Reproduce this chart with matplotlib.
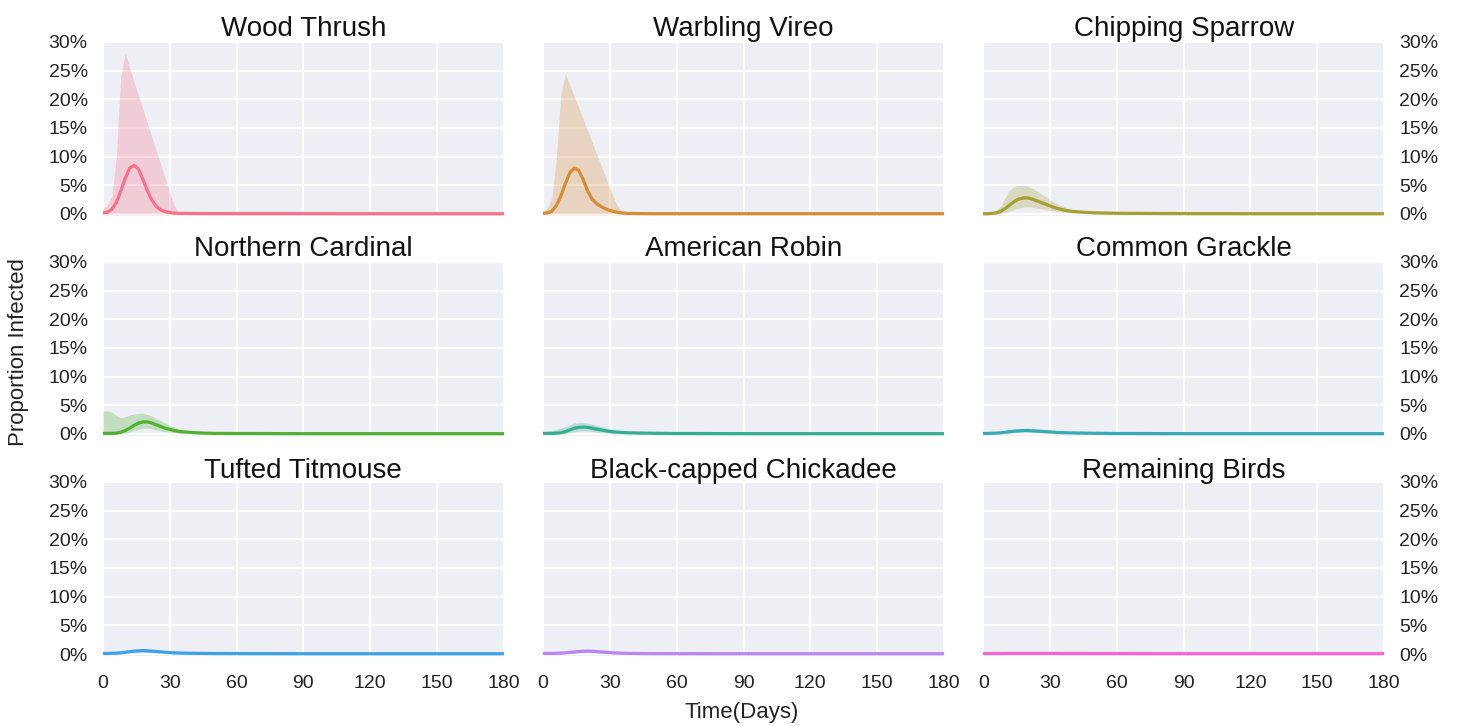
import matplotlib
matplotlib.use("Agg")
import matplotlib.pyplot as plt
import matplotlib.ticker as mtick
import seaborn as sns

#####################################################################
# data (percent infected):
days = [0, 2, 4, 6, 8, 10, 12, 14, 16, 18, 20, 22, 24, 26, 28, 30, 32, 34, 36, 38, 40,
        45, 50, 60, 80, 100, 120, 140, 160, 180]

species = ['Wood Thrush', 'Warbling Vireo', 'Chipping Sparrow',
           'Northern Cardinal', 'American Robin', 'Common Grackle',
           'Tufted Titmouse', 'Black-capped Chickadee', 'Remaining Birds']

wt_mean = [0.2, 0.3, 0.8, 2.0, 4.0, 6.2, 8.0, 8.5, 7.8, 6.0, 4.0, 2.4, 1.3, 0.7, 0.4, 0.25, 0.15, 0.1, 0.1, 0.08, 0.08,
           0.07, 0.07, 0.06, 0.06, 0.05, 0.05, 0.05, 0.05, 0.05]
wt_lo = [0.0] * 30
wt_hi = [1.0, 1.5, 3.0, 10.0, 24.0, 28.0, 25.5, 23.0, 20.6, 18.2, 15.8, 13.4, 11.0, 8.6, 6.2, 3.8, 1.4, 0.4, 0.3, 0.2, 0.2,
         0.15, 0.12, 0.1, 0.1, 0.08, 0.08, 0.08, 0.08, 0.08]

wv_mean = [0.1, 0.2, 0.5, 1.5, 3.2, 5.3, 7.2, 8.0, 7.6, 6.0, 4.0, 2.6, 1.8, 1.3, 0.9, 0.6, 0.4, 0.25, 0.15, 0.1, 0.08,
           0.06, 0.05, 0.05, 0.05, 0.05, 0.05, 0.05, 0.05, 0.05]
wv_lo = [0.0] * 30
wv_hi = [0.5, 1.0, 3.0, 10.0, 21.0, 24.5, 22.5, 20.5, 18.5, 16.5, 14.5, 12.5, 10.5, 8.5, 6.5, 4.5, 2.5, 1.0, 0.3, 0.2, 0.15,
         0.1, 0.1, 0.08, 0.08, 0.08, 0.08, 0.08, 0.08, 0.08]

cs_mean = [0.05, 0.05, 0.1, 0.2, 0.5, 1.0, 1.6, 2.2, 2.6, 2.8, 2.8, 2.6, 2.3, 2.0, 1.7, 1.4, 1.1, 0.9, 0.7, 0.55, 0.45,
           0.3, 0.2, 0.12, 0.08, 0.06, 0.05, 0.05, 0.05, 0.05]
cs_lo = [0.0, 0.0, 0.0, 0.0, 0.1, 0.3, 0.5, 0.8, 1.0, 1.2, 1.2, 1.2, 1.0, 0.9, 0.7, 0.6, 0.5, 0.4, 0.3, 0.2, 0.15,
         0.1, 0.05, 0.0, 0.0, 0.0, 0.0, 0.0, 0.0, 0.0]
cs_hi = [0.1, 0.15, 0.3, 0.7, 1.5, 3.0, 4.2, 4.8, 5.0, 5.0, 4.8, 4.5, 4.0, 3.5, 3.0, 2.5, 2.0, 1.6, 1.3, 1.0, 0.8,
         0.5, 0.35, 0.2, 0.12, 0.1, 0.08, 0.08, 0.08, 0.08]

nc_mean = [0.1, 0.1, 0.1, 0.15, 0.3, 0.6, 1.0, 1.5, 1.9, 2.1, 2.1, 1.9, 1.6, 1.3, 1.0, 0.8, 0.6, 0.45, 0.35, 0.3, 0.25,
           0.15, 0.1, 0.08, 0.06, 0.05, 0.05, 0.05, 0.05, 0.05]
nc_lo = [0.0, 0.0, 0.0, 0.0, 0.0, 0.1, 0.3, 0.6, 0.8, 1.0, 1.0, 0.9, 0.7, 0.5, 0.4, 0.3, 0.2, 0.1, 0.1, 0.05, 0.05,
         0.0, 0.0, 0.0, 0.0, 0.0, 0.0, 0.0, 0.0, 0.0]
nc_hi = [4.0, 4.0, 3.8, 3.2, 2.8, 3.0, 3.3, 3.5, 3.6, 3.6, 3.4, 3.1, 2.7, 2.3, 1.9, 1.5, 1.2, 0.9, 0.7, 0.6, 0.5,
         0.3, 0.2, 0.15, 0.1, 0.08, 0.08, 0.08, 0.08, 0.08]

ar_mean = [0.1, 0.1, 0.1, 0.15, 0.2, 0.4, 0.7, 1.0, 1.15, 1.2, 1.15, 1.0, 0.85, 0.7, 0.55, 0.45, 0.35, 0.3, 0.25, 0.2, 0.18,
           0.15, 0.12, 0.08, 0.06, 0.05, 0.05, 0.05, 0.05, 0.05]
ar_lo = [0.0, 0.0, 0.0, 0.0, 0.0, 0.1, 0.2, 0.4, 0.5, 0.5, 0.5, 0.4, 0.3, 0.2, 0.15, 0.1, 0.05, 0.0, 0.0, 0.0, 0.0,
         0.0, 0.0, 0.0, 0.0, 0.0, 0.0, 0.0, 0.0, 0.0]
ar_hi = [0.4, 0.5, 0.6, 0.8, 1.0, 1.3, 1.6, 1.9, 2.0, 2.0, 1.9, 1.7, 1.5, 1.3, 1.1, 0.9, 0.7, 0.6, 0.5, 0.4, 0.35,
         0.3, 0.25, 0.15, 0.1, 0.08, 0.08, 0.08, 0.08, 0.08]

cg_mean = [0.1, 0.1, 0.12, 0.15, 0.2, 0.3, 0.4, 0.5, 0.55, 0.6, 0.6, 0.55, 0.5, 0.45, 0.4, 0.35, 0.3, 0.25, 0.22, 0.2, 0.18,
           0.15, 0.12, 0.08, 0.06, 0.05, 0.05, 0.05, 0.05, 0.05]
cg_lo = [0.0, 0.0, 0.0, 0.0, 0.05, 0.1, 0.15, 0.2, 0.25, 0.3, 0.3, 0.25, 0.2, 0.2, 0.15, 0.1, 0.1, 0.05, 0.05, 0.0, 0.0,
         0.0, 0.0, 0.0, 0.0, 0.0, 0.0, 0.0, 0.0, 0.0]
cg_hi = [0.3, 0.3, 0.35, 0.4, 0.5, 0.6, 0.75, 0.85, 0.9, 0.95, 0.95, 0.9, 0.85, 0.8, 0.7, 0.6, 0.55, 0.5, 0.45, 0.4, 0.35,
         0.3, 0.25, 0.15, 0.1, 0.08, 0.08, 0.08, 0.08, 0.08]

tt_mean = [0.1, 0.1, 0.12, 0.15, 0.2, 0.3, 0.4, 0.5, 0.55, 0.6, 0.55, 0.5, 0.45, 0.38, 0.3, 0.25, 0.2, 0.18, 0.15, 0.13, 0.12,
           0.1, 0.08, 0.07, 0.06, 0.05, 0.05, 0.05, 0.05, 0.05]
tt_lo = [0.0, 0.0, 0.0, 0.0, 0.05, 0.1, 0.15, 0.2, 0.25, 0.25, 0.25, 0.2, 0.15, 0.1, 0.1, 0.05, 0.0, 0.0, 0.0, 0.0, 0.0,
         0.0, 0.0, 0.0, 0.0, 0.0, 0.0, 0.0, 0.0, 0.0]
tt_hi = [0.3, 0.3, 0.35, 0.4, 0.5, 0.6, 0.7, 0.8, 0.9, 0.9, 0.85, 0.8, 0.7, 0.6, 0.5, 0.45, 0.4, 0.35, 0.3, 0.25, 0.22,
         0.2, 0.15, 0.12, 0.1, 0.08, 0.08, 0.08, 0.08, 0.08]

bc_mean = [0.1, 0.1, 0.1, 0.12, 0.15, 0.2, 0.28, 0.35, 0.42, 0.48, 0.5, 0.48, 0.42, 0.36, 0.3, 0.25, 0.2, 0.16, 0.13, 0.11, 0.1,
           0.08, 0.07, 0.06, 0.05, 0.05, 0.05, 0.05, 0.05, 0.05]
bc_lo = [0.0, 0.0, 0.0, 0.0, 0.0, 0.05, 0.1, 0.15, 0.2, 0.2, 0.2, 0.2, 0.15, 0.1, 0.1, 0.05, 0.0, 0.0, 0.0, 0.0, 0.0,
         0.0, 0.0, 0.0, 0.0, 0.0, 0.0, 0.0, 0.0, 0.0]
bc_hi = [0.3, 0.3, 0.3, 0.35, 0.4, 0.5, 0.6, 0.7, 0.75, 0.8, 0.8, 0.75, 0.7, 0.6, 0.5, 0.45, 0.4, 0.35, 0.3, 0.25, 0.2,
         0.18, 0.15, 0.12, 0.1, 0.08, 0.08, 0.08, 0.08, 0.08]

rb_mean = [0.08, 0.08, 0.08, 0.08, 0.08, 0.09, 0.09, 0.1, 0.1, 0.1, 0.1, 0.1, 0.1, 0.1, 0.1, 0.09, 0.09, 0.09, 0.08, 0.08, 0.08,
           0.08, 0.07, 0.07, 0.06, 0.06, 0.06, 0.06, 0.06, 0.06]
rb_lo = [0.0] * 30
rb_hi = [0.15, 0.15, 0.15, 0.15, 0.15, 0.16, 0.17, 0.18, 0.18, 0.18, 0.18, 0.18, 0.18, 0.17, 0.17, 0.16, 0.16, 0.15, 0.15, 0.15, 0.15,
         0.14, 0.13, 0.12, 0.11, 0.1, 0.1, 0.1, 0.1, 0.1]

means = [wt_mean, wv_mean, cs_mean, nc_mean, ar_mean, cg_mean, tt_mean, bc_mean, rb_mean]
lows = [wt_lo, wv_lo, cs_lo, nc_lo, ar_lo, cg_lo, tt_lo, bc_lo, rb_lo]
highs = [wt_hi, wv_hi, cs_hi, nc_hi, ar_hi, cg_hi, tt_hi, bc_hi, rb_hi]

#####################################################################
# style:
sns.set_style('darkgrid', {'axes.facecolor': '#eeeef5', 'grid.color': 'white'})
plt.rcParams['font.family'] = ['Liberation Sans', 'DejaVu Sans']
colors = sns.color_palette('husl', 9)

fig = plt.figure(figsize=(14.6, 7.26), dpi=100)

lefts = [0.0705, 0.372, 0.6735]
bottoms = [0.7029, 0.3999, 0.0968]
width = 0.2745
height = 0.2393

for i, name in enumerate(species):
    row, col = divmod(i, 3)
    ax = fig.add_axes([lefts[col], bottoms[row], width, height])

    mean = [v / 100 for v in means[i]]
    lo = [v / 100 for v in lows[i]]
    hi = [v / 100 for v in highs[i]]

    ax.fill_between(days, lo, hi, color=colors[i], alpha=0.27, linewidth=0)
    ax.plot(days, mean, color=colors[i], lw=2.3)

    ax.set_xlim(0, 180)
    ax.set_ylim(-0.003, 0.30)
    ax.set_xticks(range(0, 181, 30))
    ax.set_yticks([0, 0.05, 0.10, 0.15, 0.20, 0.25, 0.30])
    ax.yaxis.set_major_formatter(mtick.PercentFormatter(1.0, decimals=0))
    ax.grid(True, color='white', lw=1.6)
    for s in ax.spines.values():
        s.set_visible(False)

    ax.tick_params(axis='both', length=0, labelsize=14, labelcolor='#222222')
    ax.tick_params(axis='y', pad=11)
    ax.tick_params(axis='x', pad=14)

    if row < 2:
        ax.set_xticklabels([])
    if col == 1:
        ax.set_yticklabels([])
    elif col == 2:
        ax.yaxis.tick_right()
        ax.tick_params(axis='y', length=0, pad=11)

    ax.set_title(name, fontsize=20, pad=3, color='#111111')

fig.text(0.0125, 0.515, 'Proportion Infected', rotation=90, ha='center', va='center',
         fontsize=16, color='#222222')
fig.text(0.508, 0.018, 'Time(Days)', ha='center', va='center', fontsize=16, color='#222222')

fig.savefig('out.png', dpi=100)
